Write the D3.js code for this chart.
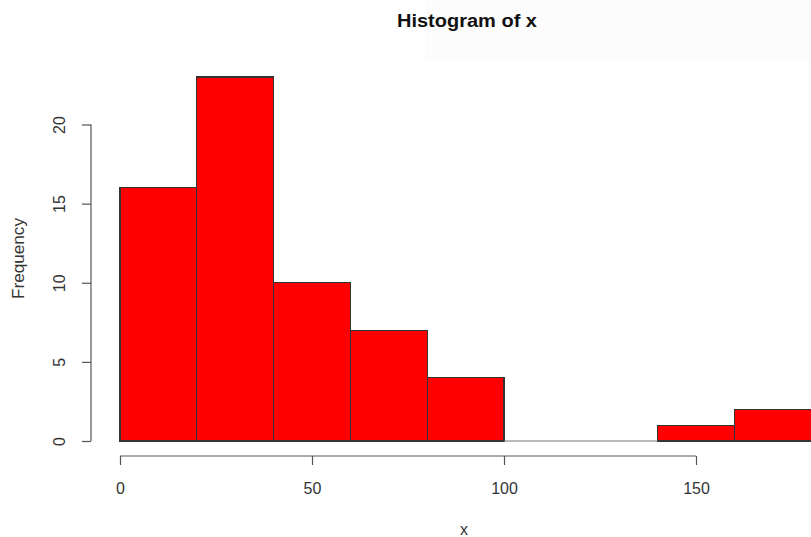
<!DOCTYPE html>
<html>
<head>
<meta charset="utf-8">
<script src="https://cdn.jsdelivr.net/npm/d3@7/dist/d3.min.js"></script>
<style>
  html, body { margin: 0; padding: 0; background: #fff; }
  svg { display: block; }
  text { font-family: "Liberation Sans", Arial, Helvetica, sans-serif; }
</style>
</head>
<body>
<svg id="chart" width="811" height="537"></svg>
<script>
// Histogram bins (left edges, width 20) and their counts
const binStarts = [0, 20, 40, 60, 80, 100, 120, 140, 160];
const binWidth = 20;
const counts = [16, 23, 10, 7, 4, 0, 0, 1, 2];
const xTicks = [0, 50, 100, 150];
const yTicks = [0, 5, 10, 15, 20];

const svg = d3.select("#chart");

// faint panel behind the upper right of the title area
svg.append("rect")
  .attr("x", 425).attr("y", 0).attr("width", 386).attr("height", 62)
  .attr("fill", "#fcfcfc");

const x = d3.scaleLinear().domain([0, 100]).range([120, 504]);
const y = d3.scaleLinear().domain([0, 20]).range([441, 124.5]);

// bars
svg.append("g")
  .selectAll("rect")
  .data(binStarts)
  .join("rect")
  .attr("x", (d) => x(d))
  .attr("width", (d) => x(d + binWidth) - x(d))
  .attr("y", (d, i) => y(counts[i]))
  .attr("height", (d, i) => y(0) - y(counts[i]))
  .attr("fill", "#ff0000")
  .attr("stroke", "#333")
  .attr("stroke-width", 1.2)
  .attr("shape-rendering", "crispEdges");

// empty bins still show their outline along the baseline
svg.append("g")
  .selectAll("line")
  .data(binStarts.filter((d, i) => counts[i] === 0))
  .join("line")
  .attr("x1", (d) => x(d))
  .attr("x2", (d) => x(d + binWidth))
  .attr("y1", y(0)).attr("y2", y(0))
  .attr("stroke", "#777")
  .attr("stroke-width", 1.2);

// x axis
const xAxis = svg.append("g")
  .attr("transform", "translate(0,456)")
  .call(d3.axisBottom(x).tickValues(xTicks).tickSize(9).tickPadding(0).tickSizeOuter(0)
    .tickFormat(d3.format("d")));
xAxis.select(".domain").attr("d", `M${x(0)},0H${x(150)}`);
xAxis.selectAll("path, line").attr("stroke", "#555").attr("stroke-width", 1.2);
xAxis.selectAll("text")
  .attr("y", 38).attr("dy", null)
  .attr("fill", "#333")
  .style("font-size", "16px");

// y axis
const yAxis = svg.append("g")
  .attr("transform", "translate(91,0)")
  .call(d3.axisLeft(y).tickValues(yTicks).tickSize(9).tickSizeOuter(0)
    .tickFormat(d3.format("d")));
yAxis.select(".domain").attr("d", `M0,${y(0)}V${y(20)}`);
yAxis.selectAll("path, line").attr("stroke", "#555").attr("stroke-width", 1.2);
yAxis.selectAll("text")
  .attr("x", null).attr("dy", null)
  .attr("text-anchor", "middle")
  .attr("transform", "translate(-26,0) rotate(-90)")
  .attr("fill", "#333")
  .style("font-size", "16px");

// titles
svg.append("text")
  .attr("x", 467).attr("y", 27)
  .attr("text-anchor", "middle")
  .attr("font-weight", "bold")
  .attr("fill", "#111")
  .attr("textLength", 140)
  .attr("lengthAdjust", "spacingAndGlyphs")
  .style("font-size", "18px")
  .text("Histogram of x");

svg.append("text")
  .attr("x", 464).attr("y", 535)
  .attr("text-anchor", "middle")
  .attr("fill", "#333")
  .style("font-size", "16px")
  .text("x");

svg.append("text")
  .attr("transform", "translate(24,258.5) rotate(-90)")
  .attr("text-anchor", "middle")
  .attr("fill", "#333")
  .attr("textLength", 81)
  .attr("lengthAdjust", "spacingAndGlyphs")
  .style("font-size", "16px")
  .text("Frequency");
</script>
</body>
</html>
